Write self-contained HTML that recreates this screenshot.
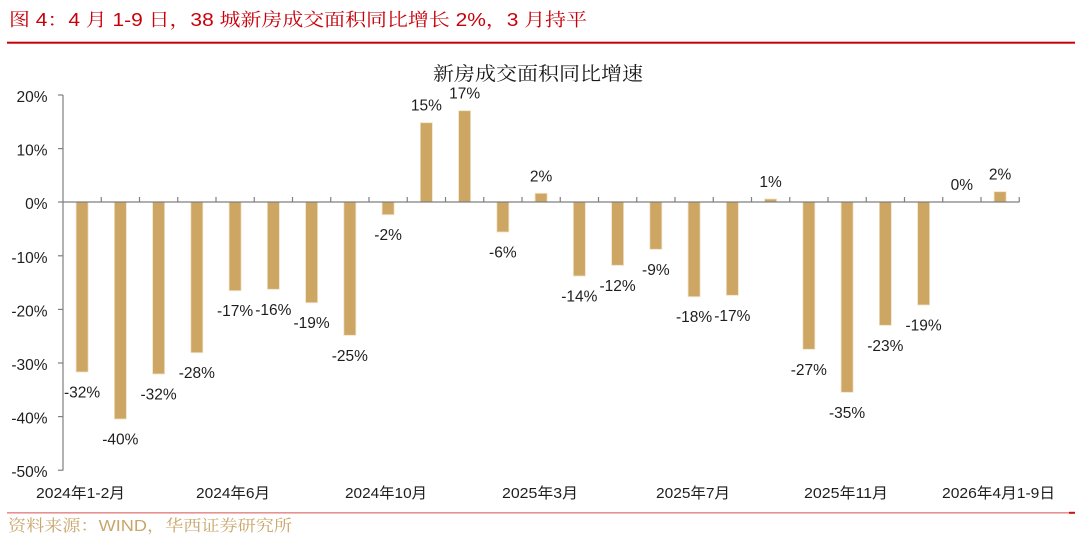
<!DOCTYPE html>
<html>
<head>
<meta charset="utf-8">
<style>
html,body{margin:0;padding:0;background:#fff;}
body{width:1080px;height:538px;overflow:hidden;}
svg{display:block;}
.lbl{font-family:"Liberation Sans","Noto Sans CJK SC",sans-serif;font-size:15.5px;fill:#1e1e1e;text-anchor:middle;}
.yt{font-family:"Liberation Sans","Noto Sans CJK SC",sans-serif;font-size:15.5px;fill:#1e1e1e;text-anchor:end;}
.xl{font-family:"Liberation Sans","Noto Sans CJK SC",sans-serif;font-size:15px;fill:#1e1e1e;}
</style>
</head>
<body>
<svg width="1080" height="538" viewBox="0 0 1080 538" xmlns="http://www.w3.org/2000/svg">
<!-- Header title -->
<text x="9" y="26" font-family="'Liberation Sans','Noto Serif CJK SC',serif" font-size="18" fill="#C8000A" textLength="578" lengthAdjust="spacingAndGlyphs">图 4：4 月 1-9 日，38 城新房成交面积同比增长 2%，3 月持平</text>
<rect x="7" y="41.7" width="1068" height="2" fill="#C8000A"/>

<!-- Chart title -->
<text x="433" y="80" font-family="'Noto Serif CJK SC','Liberation Serif',serif" font-size="19" fill="#1a1a1a" textLength="210" lengthAdjust="spacingAndGlyphs">新房成交面积同比增速</text>

<!-- Bars -->
<g fill="#CDA663" stroke="#F0E2C6" stroke-width="0.8">
<rect x="76.1" y="202" width="12" height="170"/>
<rect x="114.35" y="202" width="12" height="217"/>
<rect x="152.6" y="202" width="12" height="172"/>
<rect x="190.85" y="202" width="12" height="150.7"/>
<rect x="229.1" y="202" width="12" height="88.7"/>
<rect x="267.35" y="202" width="12" height="87.3"/>
<rect x="305.6" y="202" width="12" height="100.7"/>
<rect x="343.85" y="202" width="12" height="133.3"/>
<rect x="382.1" y="202" width="12" height="12.7"/>
<rect x="420.35" y="122.7" width="12" height="79.3"/>
<rect x="458.6" y="110.7" width="12" height="91.3"/>
<rect x="496.85" y="202" width="12" height="30"/>
<rect x="535.1" y="193.3" width="12" height="8.7"/>
<rect x="573.35" y="202" width="12" height="74"/>
<rect x="611.6" y="202" width="12" height="63.3"/>
<rect x="649.85" y="202" width="12" height="47.3"/>
<rect x="688.1" y="202" width="12" height="94.7"/>
<rect x="726.35" y="202" width="12" height="93.3"/>
<rect x="764.6" y="199" width="12" height="3"/>
<rect x="802.85" y="202" width="12" height="147.3"/>
<rect x="841.1" y="202" width="12" height="190.3"/>
<rect x="879.35" y="202" width="12" height="123.3"/>
<rect x="917.6" y="202" width="12" height="103"/>
<rect x="994.1" y="191.7" width="12" height="10.3"/>
</g>

<!-- Axes -->
<g stroke="#7f7f7f" stroke-width="1.2" fill="none">
<line x1="63" y1="95" x2="63" y2="470.5"/>
<line x1="63" y1="202" x2="1019.5" y2="202"/>
<line x1="58" y1="95" x2="63" y2="95"/>
<line x1="58" y1="148.6" x2="63" y2="148.6"/>
<line x1="58" y1="202" x2="63" y2="202"/>
<line x1="58" y1="255.8" x2="63" y2="255.8"/>
<line x1="58" y1="309.4" x2="63" y2="309.4"/>
<line x1="58" y1="363" x2="63" y2="363"/>
<line x1="58" y1="416.6" x2="63" y2="416.6"/>
<line x1="58" y1="470.2" x2="63" y2="470.2"/>
<path d="M101.25 197V202M139.5 197V202M177.75 197V202M216 197V202M254.25 197V202M292.5 197V202M330.75 197V202M369 197V202M407.25 197V202M445.5 197V202M483.75 197V202M522 197V202M560.25 197V202M598.5 197V202M636.75 197V202M675 197V202M713.25 197V202M751.5 197V202M789.75 197V202M828 197V202M866.25 197V202M904.5 197V202M942.75 197V202M981 197V202M1019.25 197V202"/>
</g>

<!-- Y tick labels -->
<text class="yt" x="47.5" y="102">20%</text>
<text class="yt" x="47.5" y="155.6">10%</text>
<text class="yt" x="47.5" y="209">0%</text>
<text class="yt" x="47.5" y="262.8">-10%</text>
<text class="yt" x="47.5" y="316.4">-20%</text>
<text class="yt" x="47.5" y="370">-30%</text>
<text class="yt" x="47.5" y="423.6">-40%</text>
<text class="yt" x="47.5" y="477.2">-50%</text>

<!-- Data labels -->
<text class="lbl" x="82.1" y="397.5">-32%</text>
<text class="lbl" x="120.35" y="444.5">-40%</text>
<text class="lbl" x="158.6" y="399.5">-32%</text>
<text class="lbl" x="196.85" y="378">-28%</text>
<text class="lbl" x="235.1" y="316">-17%</text>
<text class="lbl" x="273.35" y="315">-16%</text>
<text class="lbl" x="311.6" y="328">-19%</text>
<text class="lbl" x="349.85" y="361">-25%</text>
<text class="lbl" x="388.1" y="240">-2%</text>
<text class="lbl" x="426.35" y="110.7">15%</text>
<text class="lbl" x="464.6" y="98.7">17%</text>
<text class="lbl" x="502.85" y="257.5">-6%</text>
<text class="lbl" x="541.1" y="181.3">2%</text>
<text class="lbl" x="579.35" y="301.5">-14%</text>
<text class="lbl" x="617.6" y="291">-12%</text>
<text class="lbl" x="655.85" y="275">-9%</text>
<text class="lbl" x="694.1" y="322">-18%</text>
<text class="lbl" x="732.35" y="321">-17%</text>
<text class="lbl" x="770.6" y="187">1%</text>
<text class="lbl" x="808.85" y="375">-27%</text>
<text class="lbl" x="847.1" y="418">-35%</text>
<text class="lbl" x="885.35" y="351">-23%</text>
<text class="lbl" x="923.6" y="330.5">-19%</text>
<text class="lbl" x="961.85" y="190">0%</text>
<text class="lbl" x="1000.1" y="179.7">2%</text>

<!-- X labels -->
<text class="xl" x="36" y="498" textLength="89" lengthAdjust="spacingAndGlyphs">2024年1-2月</text>
<text class="xl" x="196" y="498" textLength="74" lengthAdjust="spacingAndGlyphs">2024年6月</text>
<text class="xl" x="345" y="498" textLength="82" lengthAdjust="spacingAndGlyphs">2024年10月</text>
<text class="xl" x="502" y="498" textLength="76" lengthAdjust="spacingAndGlyphs">2025年3月</text>
<text class="xl" x="656" y="498" textLength="74" lengthAdjust="spacingAndGlyphs">2025年7月</text>
<text class="xl" x="804" y="498" textLength="84" lengthAdjust="spacingAndGlyphs">2025年11月</text>
<text class="xl" x="942" y="498" textLength="113" lengthAdjust="spacingAndGlyphs">2026年4月1-9日</text>

<!-- Footer -->
<rect x="7" y="512.2" width="1062" height="1.3" fill="#E07878"/>
<rect x="1069" y="511.8" width="6" height="2" fill="#D01010"/>
<text x="8" y="531" font-family="'Liberation Sans','Noto Serif CJK SC',serif" font-size="16" fill="#C9A66B" textLength="284" lengthAdjust="spacingAndGlyphs">资料来源：WIND，华西证券研究所</text>
</svg>
</body>
</html>
